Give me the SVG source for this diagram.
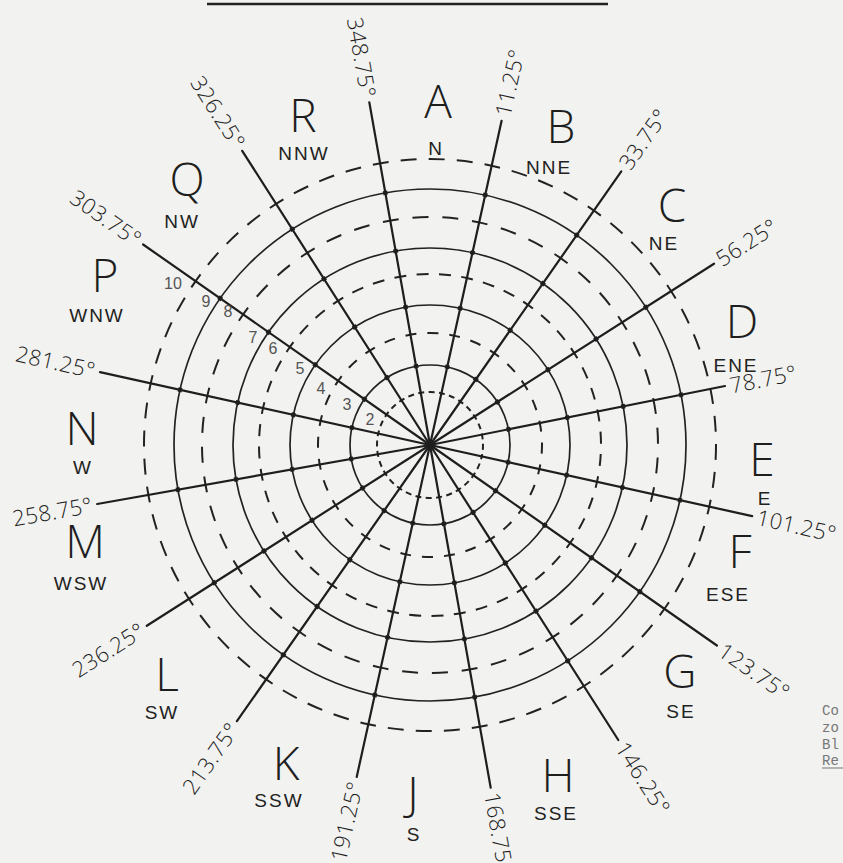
<svg xmlns="http://www.w3.org/2000/svg" xmlns:xlink="http://www.w3.org/1999/xlink" width="843" height="863" viewBox="0 0 843 863">
<style>
.bg{fill:#f2f2f0}
.spk{stroke:#1e1e1e;stroke-width:2.2;stroke-linecap:round;fill:none}
.knots{stroke:#1e1e1e;stroke-width:4.5;stroke-dasharray:0 78 4 56 4 53 4 55 4 2000;fill:none}
.sol{fill:none;stroke:#222;stroke-width:1.7}
.dsh{fill:none;stroke:#222;stroke-width:2}
.big{font-family:"Open Sans","Liberation Sans",sans-serif;font-weight:300;font-size:46px;fill:#1e1e1e;text-anchor:middle}
.sm{font-family:"Liberation Sans","DejaVu Sans",sans-serif;font-size:19px;fill:#222;text-anchor:middle;letter-spacing:2px}
.ang{font-family:"Open Sans","Liberation Sans",sans-serif;font-weight:300;font-size:22px;fill:#1e1e1e;letter-spacing:0.5px}
.num{font-family:"Liberation Sans",sans-serif;font-size:16px;fill:#555;text-anchor:middle}
.side{font-family:"Liberation Mono",monospace;font-size:14px;fill:#777}
</style>
<defs>
<g id="spokes">
<line x1="430" y1="445" x2="369.3" y2="102.3"/>
<line x1="430" y1="445" x2="242.2" y2="150.8"/>
<line x1="430" y1="445" x2="143.1" y2="244.5"/>
<line x1="430" y1="445" x2="100" y2="372.1"/>
<line x1="430" y1="445" x2="97.2" y2="504"/>
<line x1="430" y1="445" x2="146.8" y2="625.8"/>
<line x1="430" y1="445" x2="236.9" y2="721.2"/>
<line x1="430" y1="445" x2="356.7" y2="777"/>
<line x1="430" y1="445" x2="490.7" y2="787.7"/>
<line x1="430" y1="445" x2="618.3" y2="740"/>
<line x1="430" y1="445" x2="716.9" y2="645.5"/>
<line x1="430" y1="445" x2="752.2" y2="516.1"/>
<line x1="430" y1="445" x2="725" y2="386"/>
<line x1="430" y1="445" x2="714" y2="263.7"/>
<line x1="430" y1="445" x2="621.3" y2="171.3"/>
<line x1="430" y1="445" x2="501.6" y2="120.8"/>
</g>
</defs>
<rect class="bg" x="0" y="0" width="843" height="863"/>
<line x1="207" y1="4" x2="608" y2="4" stroke="#222" stroke-width="2.5"/>

<g id="rings">
<circle class="dsh" cx="430" cy="445" r="286" transform="rotate(12.45 430 445)" stroke-dasharray="16 12.08" stroke-dashoffset="8"/>
<circle class="sol" cx="430" cy="445" r="256"/>
<circle class="dsh" cx="430" cy="445" r="228" transform="rotate(12.45 430 445)" stroke-dasharray="16 13.85" stroke-dashoffset="8"/>
<circle class="sol" cx="430" cy="445" r="197"/>
<circle class="dsh" cx="430" cy="445" r="171" transform="rotate(12.45 430 445)" stroke-dasharray="12 10.38" stroke-dashoffset="6"/>
<circle class="sol" cx="430" cy="445" r="140"/>
<circle class="dsh" cx="430" cy="445" r="112" transform="rotate(12.45 430 445)" stroke-dasharray="11 10.99" stroke-dashoffset="5.5"/>
<circle class="sol" cx="430" cy="445" r="80"/>
<circle class="dsh" cx="430" cy="445" r="53" transform="rotate(12.45 430 445)" stroke-dasharray="6 4.41" stroke-dashoffset="3"/>
</g>

<g id="connectors">
<use xlink:href="#spokes" href="#spokes" class="spk"/>
<use xlink:href="#spokes" href="#spokes" class="knots"/>
</g>

<g id="ring-numbers">
<text class="num" x="173" y="289">10</text>
<text class="num" x="206" y="307">9</text>
<text class="num" x="228" y="317">8</text>
<text class="num" x="253" y="343">7</text>
<text class="num" x="273" y="354">6</text>
<text class="num" x="300" y="374">5</text>
<text class="num" x="321" y="394">4</text>
<text class="num" x="347" y="410">3</text>
<text class="num" x="370" y="425">2</text>
</g>

<g id="sector-A"><text class="big" x="438" y="118">A</text><text class="sm" x="436" y="155">N</text></g>
<g id="sector-B"><text class="big" x="561" y="143">B</text><text class="sm" x="549" y="174">NNE</text></g>
<g id="sector-C"><text class="big" x="672" y="222">C</text><text class="sm" x="664" y="250">NE</text></g>
<g id="sector-D"><text class="big" x="742" y="338">D</text><text class="sm" x="736" y="372">ENE</text></g>
<g id="sector-E"><text class="big" x="762" y="476">E</text><text class="sm" x="765" y="505">E</text></g>
<g id="sector-F"><text class="big" x="740" y="568">F</text><text class="sm" x="728" y="601">ESE</text></g>
<g id="sector-G"><text class="big" x="680" y="688">G</text><text class="sm" x="681" y="718">SE</text></g>
<g id="sector-H"><text class="big" x="558" y="792">H</text><text class="sm" x="556" y="820">SSE</text></g>
<g id="sector-J"><text class="big" x="413" y="810">J</text><text class="sm" x="414" y="841">S</text></g>
<g id="sector-K"><text class="big" x="286" y="780">K</text><text class="sm" x="279" y="807">SSW</text></g>
<g id="sector-L"><text class="big" x="167" y="691">L</text><text class="sm" x="162" y="719">SW</text></g>
<g id="sector-M"><text class="big" x="85" y="558">M</text><text class="sm" x="81" y="590">WSW</text></g>
<g id="sector-N"><text class="big" x="82" y="445">N</text><text class="sm" x="83" y="474">W</text></g>
<g id="sector-P"><text class="big" x="105" y="292">P</text><text class="sm" x="97" y="322">WNW</text></g>
<g id="sector-Q"><text class="big" x="187" y="196">Q</text><text class="sm" x="182" y="228">NW</text></g>
<g id="sector-R"><text class="big" x="303" y="132">R</text><text class="sm" x="304" y="160">NNW</text></g>

<g id="angles">
<text class="ang" text-anchor="end" dy="0.35em" transform="translate(368.4 97.4) rotate(79.95)">348.75°</text>
<text class="ang" text-anchor="end" dy="0.35em" transform="translate(239.5 146.6) rotate(57.45)">326.25°</text>
<text class="ang" text-anchor="end" dy="0.35em" transform="translate(139 241.6) rotate(34.95)">303.75°</text>
<text class="ang" text-anchor="end" dy="0.35em" transform="translate(95.1 371) rotate(12.45)">281.25°</text>
<text class="ang" text-anchor="end" dy="0.35em" transform="translate(92.3 504.9) rotate(-10.05)">258.75°</text>
<text class="ang" text-anchor="end" dy="0.35em" transform="translate(142.6 628.5) rotate(-32.55)">236.25°</text>
<text class="ang" text-anchor="end" dy="0.35em" transform="translate(234 725.3) rotate(-55.05)">213.75°</text>
<text class="ang" text-anchor="end" dy="0.35em" transform="translate(355.6 781.9) rotate(-77.55)">191.25°</text>
<text class="ang" dy="0.35em" transform="translate(491.6 792.6) rotate(79.95)">168.75°</text>
<text class="ang" dy="0.35em" transform="translate(621 744.2) rotate(57.45)">146.25°</text>
<text class="ang" dy="0.35em" transform="translate(721 648.4) rotate(34.95)">123.75°</text>
<text class="ang" dy="0.35em" transform="translate(757.1 517.2) rotate(12.45)">101.25°</text>
<text class="ang" dy="0.35em" transform="translate(729.9 386) rotate(-11.25)">78.75°</text>
<text class="ang" dy="0.35em" transform="translate(718.2 261) rotate(-32.55)">56.25°</text>
<text class="ang" dy="0.35em" transform="translate(624.2 167.2) rotate(-55.05)">33.75°</text>
<text class="ang" dy="0.35em" transform="translate(502.7 115.9) rotate(-77.55)">11.25°</text>
</g>

<g id="side-note">
<text class="side" x="822" y="715">Co</text>
<text class="side" x="822" y="732">zo</text>
<text class="side" x="822" y="749">Bl</text>
<text class="side" x="822" y="765">Re</text>
<line x1="822" y1="768" x2="843" y2="768" stroke="#777" stroke-width="1"/>
</g>
</svg>
